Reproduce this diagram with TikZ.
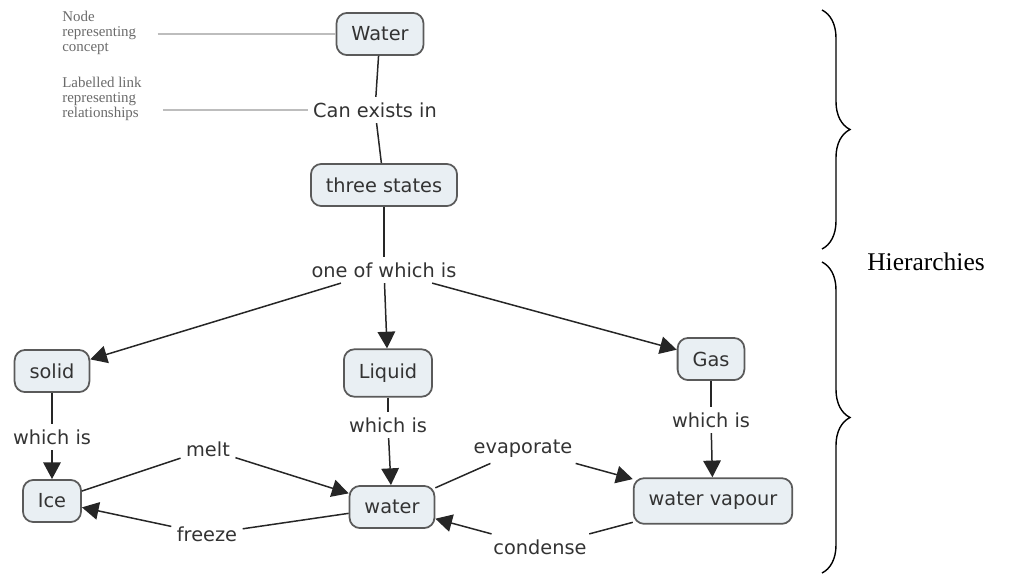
\documentclass[tikz,border=0pt]{standalone}
\usepackage{fontspec}
\setmainfont{Liberation Serif}
\newfontfamily\mapfont{DejaVu Sans}
\usepackage{tikz}
\usetikzlibrary{positioning,arrows.meta,decorations.pathreplacing}
\definecolor{conceptfill}{HTML}{E9EFF3}
\definecolor{conceptline}{HTML}{5A5A5A}
\definecolor{maptext}{HTML}{333333}
\definecolor{notegray}{HTML}{6A6A6A}
\definecolor{guidegray}{HTML}{BDBDBD}
\tikzset{
  concept/.style={draw=conceptline, fill=conceptfill, rounded corners=6pt, line width=1pt,
    font=\mapfont\fontsize{11}{13}\selectfont, text=maptext, inner xsep=8.5pt, minimum height=24pt},
  linkword/.style={font=\mapfont\fontsize{11}{13}\selectfont, text=maptext, inner sep=3pt},
  link/.style={draw=black!85, line width=0.85pt},
  arrowlink/.style={link, -{Triangle[length=9.5pt,width=10pt]}},
  note/.style={font=\fontsize{8.5}{8.5}\selectfont, text=notegray, align=left, anchor=west, inner sep=0pt},
  guide/.style={draw=guidegray, line width=0.8pt},
  hbrace/.style={decorate, decoration={brace, amplitude=0.56cm}, line width=0.8pt}
}

\begin{document}
\begin{tikzpicture}[x=0.02cm, y=-0.02cm]
    \useasboundingbox (0,0) rectangle (1025,576);

    % concepts
    \node[concept] (water) at (380,34) {Water};
    \node[concept] (states) at (384,185) {three states};
    \node[concept] (solid) at (52,371) {solid};
    \node[concept, minimum height=27pt] (liquid) at (388,373) {Liquid};
    \node[concept] (gas) at (711,359) {Gas};
    \node[concept] (ice) at (52,501) {Ice};
    \node[concept] (wliquid) at (392,507) {water};
    \node[concept, minimum height=26pt] (vapour) at (713,501) {water vapour};

    % linking words
    \node[linkword] (canexist) at (375,110) {Can exists in};
    \node[linkword] (oneof) at (384,270) {one of which is};
    \node[linkword] (isice) at (52,437) {which is};
    \node[linkword] (iswater) at (388,425) {which is};
    \node[linkword] (isvapour) at (711,420) {which is};
    \node[linkword] (melt) at (208,449) {melt};
    \node[linkword] (freeze) at (207,534) {freeze};
    \node[linkword] (evap) at (523,449) {evaporate};
    \node[linkword] (condense) at (540,547) {condense};

    \draw[link] (water) -- (canexist);
    \draw[link] (canexist) -- (states);
    \draw[link] (states) -- (oneof);
    \draw[arrowlink] (oneof) -- (solid);
    \draw[arrowlink] (oneof) -- (liquid);
    \draw[arrowlink] (oneof) -- (gas);
    \draw[link] (solid) -- (isice);
    \draw[arrowlink] (isice) -- (ice);
    \draw[link] (liquid) -- (iswater);
    \draw[arrowlink] (iswater) -- (wliquid);
    \draw[link] (gas) -- (isvapour);
    \draw[arrowlink] (isvapour) -- (vapour);
    \draw[link] (ice) -- (melt);
    \draw[arrowlink] (melt) -- (wliquid);
    \draw[link] (wliquid) -- (freeze);
    \draw[arrowlink] (freeze) -- (ice);
    \draw[link] (wliquid) -- (evap);
    \draw[arrowlink] (evap) -- (vapour);
    \draw[link] (vapour) -- (condense);
    \draw[arrowlink] (condense) -- (wliquid);

    % notes on the left
    \node[note] (nodenote) at (62,33) {Node\\representing\\concept};
    \node[note] (linknote) at (62,99) {Labelled link\\representing\\relationships};
    \draw[guide] ([xshift=12pt]nodenote.east |- water.west) -- (water.west);
    \draw[guide] ([xshift=12pt]linknote.east |- canexist.west) -- (canexist.west);

    % braces
    \draw[hbrace] (822,10) -- (822,249);
    \draw[hbrace] (822,262) -- (822,573);
    \node[font=\fontsize{14.5}{17}\selectfont] (hier) at (926,262) {Hierarchies};
\end{tikzpicture}
\end{document}
